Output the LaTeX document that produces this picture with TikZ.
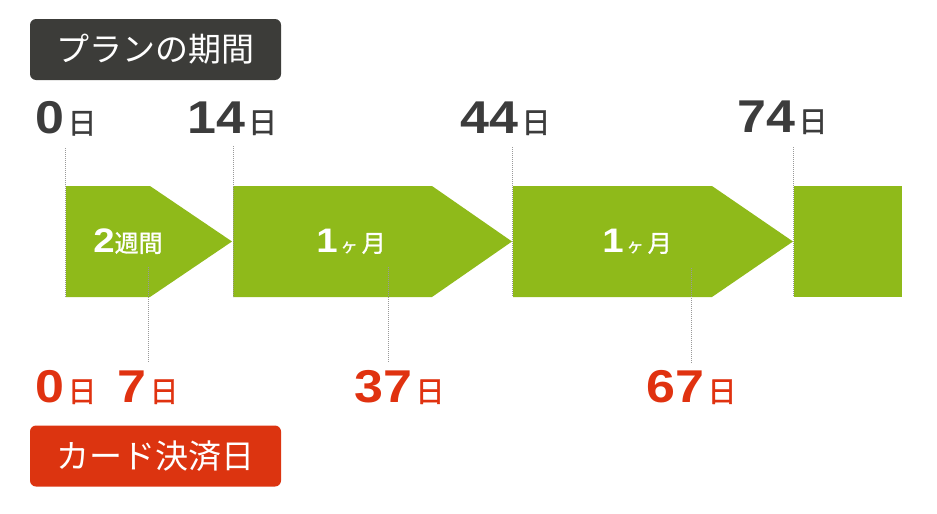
\documentclass[tikz,border=0pt]{standalone}
\usepackage{fontspec}
\setmainfont{Noto Sans CJK JP}
\newfontfamily\digitfont{Liberation Sans Bold}[FakeStretch=1.13]
\newfontfamily\dayfont{Noto Sans CJK JP}[FakeBold=1.2]
\definecolor{planbg}{HTML}{3C3C39}
\definecolor{cardbg}{HTML}{DC3410}
\definecolor{barg}{HTML}{8FBA1A}
\definecolor{daygray}{HTML}{3C3C3C}
\definecolor{dayred}{HTML}{E03210}
\newcommand\mydnum[1]{{\digitfont\fontsize{46}{50}\selectfont #1}}
\newcommand\mydday{\hspace{3pt}{\dayfont\fontsize{29}{30}\selectfont 日}}
\newcommand\barnum[1]{{\digitfont\fontsize{34}{36}\selectfont #1}}
\tikzset{
  tagbox/.style={rounded corners=6pt, minimum width=251pt, minimum height=61pt, inner sep=0pt,
    text=white, font=\fontsize{33}{36}\selectfont},
  daylbl/.style={anchor=base west, inner sep=0pt},
  barlbl/.style={anchor=base, inner sep=0pt, text=white, font=\dayfont},
  guide/.style={draw=gray!80, line width=0.6pt, dash pattern=on 1pt off 1pt},
  barfill/.style={fill=barg}
}
\begin{document}
\begin{tikzpicture}[x=1pt,y=-1pt]
\useasboundingbox (0,0) rectangle (937,514);
% boxes
\node[tagbox, fill=planbg] (plan) at (155.5,49.5) {プランの期間};
\node[tagbox, fill=cardbg] (card) at (155.5,456) {カード決済日};
% bars
\fill[barfill] (66,186) -- (150,186) -- (232,241.5) -- (150,297) -- (66,297) -- cycle;
\fill[barfill] (233,186) -- (432,186) -- (512,241.5) -- (432,297) -- (233,297) -- cycle;
\fill[barfill] (513,186) -- (712,186) -- (793,241.5) -- (712,297) -- (513,297) -- cycle;
\fill[barfill] (794,186) rectangle (902,297);
% bar labels
\node[barlbl] (w2) at (128,252) {\barnum{2}{\fontsize{24}{26}\selectfont 週間}};
\node[barlbl] (m1) at (351,252) {\barnum{1}\hspace{3pt}{\fontsize{17}{18}\selectfont ヶ}\hspace{4pt}{\fontsize{24}{26}\selectfont 月}};
\node[barlbl] (m2) at (637,252) {\barnum{1}\hspace{3pt}{\fontsize{17}{18}\selectfont ヶ}\hspace{4pt}{\fontsize{24}{26}\selectfont 月}};
% top day labels
\node[daylbl, text=daygray] (t0) at (35.5,133.5) {\mydnum{0}\mydday};
\node[daylbl, text=daygray] (t14) at (187,133) {\mydnum{14}\mydday};
\node[daylbl, text=daygray] (t44) at (460.5,133) {\mydnum{44}\mydday};
\node[daylbl, text=daygray] (t74) at (737.5,132) {\mydnum{74}\mydday};
% bottom day labels
\node[daylbl, text=dayred] (b0) at (35.5,402) {\mydnum{0}\mydday};
\node[daylbl, text=dayred] (b7) at (117.5,402) {\mydnum{7}\mydday};
\node[daylbl, text=dayred] (b37) at (354.5,402) {\mydnum{37}\mydday};
\node[daylbl, text=dayred] (b67) at (646.5,402) {\mydnum{67}\mydday};
% guide coordinates
\coordinate (g0a) at (65,148);   \coordinate (g0b) at (65,297);
\coordinate (g14a) at (233,146); \coordinate (g14b) at (233,297);
\coordinate (g44a) at (512,147); \coordinate (g44b) at (512,297);
\coordinate (g74a) at (793,147); \coordinate (g74b) at (793,297);
\coordinate (g7a) at (148,267);  \coordinate (g7b) at (148,363);
\coordinate (g37a) at (388,267); \coordinate (g37b) at (388,363);
\coordinate (g67a) at (691,268); \coordinate (g67b) at (691,363);
\draw[guide] (g0a) -- (g0b);
\draw[guide] (g14a) -- (g14b);
\draw[guide] (g44a) -- (g44b);
\draw[guide] (g74a) -- (g74b);
\draw[guide] (g7a) -- (g7b);
\draw[guide] (g37a) -- (g37b);
\draw[guide] (g67a) -- (g67b);
\end{tikzpicture}
\end{document}
